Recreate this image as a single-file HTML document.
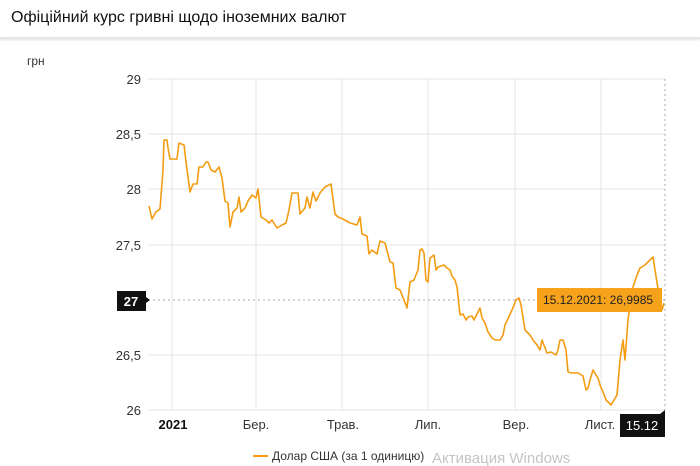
<!DOCTYPE html>
<html><head><meta charset="utf-8"><style>
body{margin:0;width:700px;height:466px;background:#fff;font-family:"Liberation Sans",sans-serif;overflow:hidden;position:relative}
.t{position:absolute;left:11px;top:9px;font-size:16px;color:#111;font-weight:500}
.hd{position:absolute;left:0;top:37px;width:700px;height:2px;background:#e6e6e6;box-shadow:0 1px 2px #ddd}
</style></head><body>
<div class="t">Офіційний курс гривні щодо іноземних валют</div>
<div class="hd"></div>
<svg width="700" height="466" style="position:absolute;left:0;top:0" font-family="Liberation Sans, sans-serif">
<text x="27" y="65" font-size="12" fill="#333">грн</text>
<g stroke="#e6e6e6" stroke-width="1">
<line x1="148" y1="79" x2="665" y2="79"/><line x1="148" y1="134" x2="665" y2="134"/><line x1="148" y1="189" x2="665" y2="189"/><line x1="148" y1="245" x2="665" y2="245"/><line x1="148" y1="355" x2="665" y2="355"/><line x1="148" y1="410" x2="665" y2="410"/>
<line x1="172" y1="79" x2="172" y2="410"/><line x1="256" y1="79" x2="256" y2="410"/><line x1="342" y1="79" x2="342" y2="410"/><line x1="428" y1="79" x2="428" y2="410"/><line x1="515" y1="79" x2="515" y2="410"/><line x1="601" y1="79" x2="601" y2="410"/>
</g>
<line x1="148" y1="300" x2="665" y2="300" stroke="#aaa" stroke-dasharray="2,3"/>
<line x1="665" y1="79" x2="665" y2="410" stroke="#aaa" stroke-dasharray="2,3"/>
<g font-size="13" fill="#333" text-anchor="end">
<text x="141" y="84">29</text><text x="141" y="139">28,5</text><text x="141" y="194">28</text><text x="141" y="250">27,5</text><text x="141" y="360">26,5</text><text x="141" y="415">26</text></g>
<g font-size="13" fill="#333" text-anchor="middle">
<text x="173" y="429" font-weight="bold" fill="#111">2021</text><text x="256" y="429">Бер.</text><text x="343" y="429">Трав.</text><text x="428" y="429">Лип.</text><text x="516" y="429">Вер.</text><text x="600" y="429">Лист.</text></g>
<polyline fill="none" stroke="#f39c12" stroke-width="1.6" stroke-linejoin="round" points="149,206 152,219 156,212 160,209 163,170 164,140 167,140 168,148 170,159 177,159 179,143 184,145 186,162 190,192 193,184 197,184 199,167 203,167 206,162 208,162 211,170 215,172 219,167 222,178 225,201 228,203 230,227 233,212 237,208 239,197 241,212 245,208 248,201 252,195 256,198 258,189 261,217 266,220 269,223 272,220 277,228 282,225 286,223 289,210 292,193 298,193 300,214 305,208 307,197 310,208 313,192 316,201 320,193 325,187 331,184 335,214 338,217 343,219 350,223 357,225 360,217 362,234 367,236 369,254 372,250 377,254 380,241 385,243 390,262 393,263 396,288 400,290 404,300 407,308 410,282 414,280 418,270 420,250 422,249 424,253 426,280 428,282 430,258 434,255 436,270 438,267 444,265 447,268 450,270 452,276 455,280 457,287 460,315 463,314 466,320 468,317 472,316 474,320 480,308 482,318 485,323 488,332 492,338 495,340 500,340 503,335 505,325 512,310 516,300 519,298 521,305 525,330 530,335 533,340 537,345 540,350 542,340 547,353 551,352 556,355 558,350 560,340 563,340 566,350 568,372 572,373 578,373 583,376 586,390 588,388 590,380 593,370 596,375 598,378 600,385 603,392 606,400 611,405 614,400 617,395 620,360 623,340 625,360 628,320 632,290 637,275 640,268 645,265 650,260 653,257 655,270 659,295 662,310 664,303"/>
<path d="M117,291 H146 V297 L150,300 L146,303 V311 H117 Z" fill="#111"/>
<text x="131" y="306" font-size="13" font-weight="bold" fill="#fff" text-anchor="middle">27</text>
<rect x="537" y="288" width="125" height="24" fill="#f7a21b"/>
<text x="598" y="304" font-size="12" fill="#222" text-anchor="middle">15.12.2021: 26,9985</text>
<path d="M620,414 H660 L665,410 V437 H620 Z" fill="#111"/>
<text x="642" y="430" font-size="13" fill="#fff" text-anchor="middle">15.12</text>
<line x1="253" y1="456" x2="268" y2="456" stroke="#f39c12" stroke-width="2"/>
<text x="272" y="460" font-size="12" fill="#333">Долар США (за 1 одиницю)</text>
<text x="432" y="463" font-size="15" fill="#c4c4c4">Активация Windows</text>
</svg>
</body></html>
